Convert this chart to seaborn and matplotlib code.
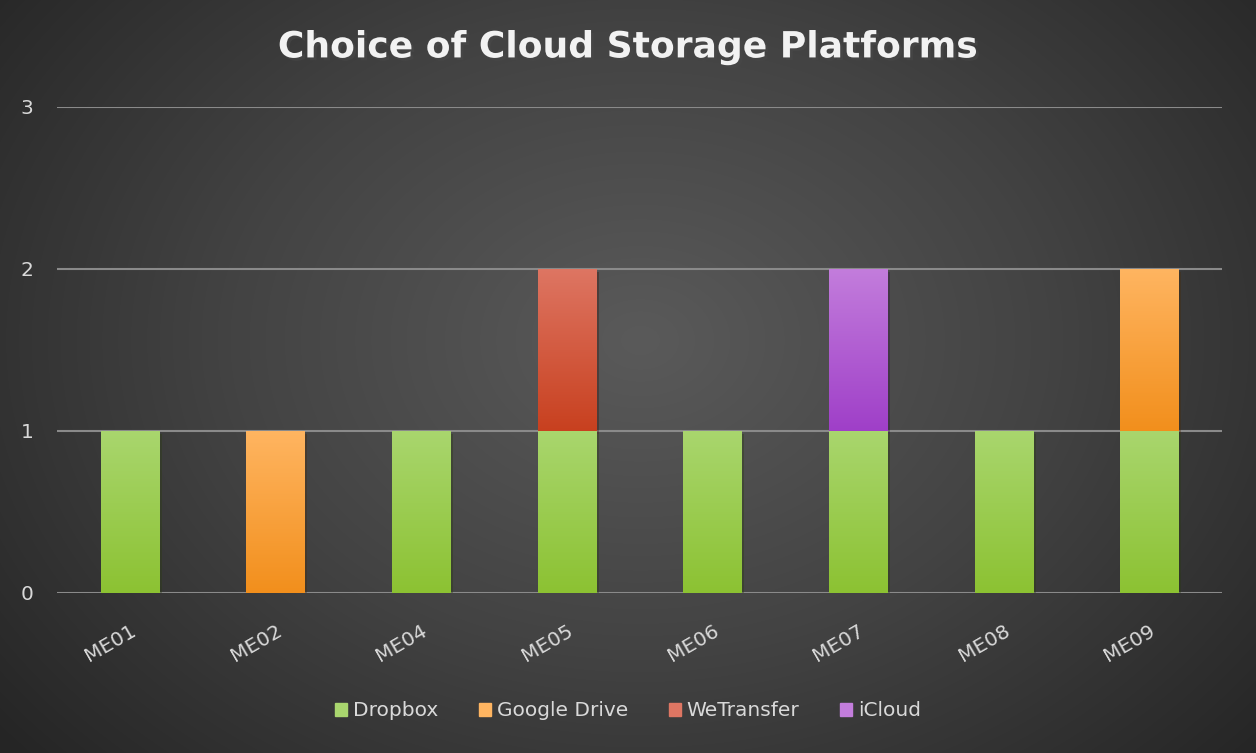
import numpy as np
import pandas as pd
import seaborn as sns
import matplotlib.pyplot as plt
import matplotlib.colors as mcolors
import matplotlib.patheffects as pe

# chart data
participants = ["ME01", "ME02", "ME04", "ME05", "ME06", "ME07", "ME08", "ME09"]
dropbox = [1, 0, 1, 1, 1, 1, 1, 1]
google_drive = [0, 1, 0, 0, 0, 0, 0, 1]
wetransfer = [0, 0, 0, 1, 0, 0, 0, 0]
icloud = [0, 0, 0, 0, 0, 1, 0, 0]

series_names = ["Dropbox", "Google Drive", "WeTransfer", "iCloud"]
series_vals = [dropbox, google_drive, wetransfer, icloud]
# (bottom colour, top colour) for the vertical gradient
series_colors = [("#8cc232", "#a9d66e"),
                 ("#f28f1c", "#ffb561"),
                 ("#c8401f", "#de7663"),
                 ("#9f3fc8", "#c37ddc")]

sns.set_theme(style="dark")
plt.rcParams['font.family'] = ['DejaVu Sans']

fig = plt.figure(figsize=(12.56, 7.53), dpi=100)

# radial background
bg = fig.add_axes([0, 0, 1, 1], zorder=-10)
yy, xx = np.mgrid[0:753, 0:1256]
r = np.sqrt(((xx - 640) / 820.0) ** 2 + ((yy - 340) / 620.0) ** 2)
r = np.clip(r, 0, 1)
bg_cmap = mcolors.LinearSegmentedColormap.from_list("bg", ["#5a5a5a", "#434343", "#262626"])
bg.imshow(r, cmap=bg_cmap, aspect="auto", extent=[0, 1, 0, 1], origin="upper")
bg.axis("off")

ax = fig.add_axes([0.0454, 0.2125, 0.9276, 0.6455])
ax.set_facecolor("none")

df = pd.DataFrame({"participant": participants})
bottom = np.zeros(len(participants))
for name, vals, cols in zip(series_names, series_vals, series_colors):
    df[name] = vals
    n_before = len(ax.patches)
    sns.barplot(data=df, x="participant", y=name, color=cols[0], width=0.4,
                bottom=bottom, ax=ax, saturation=1, zorder=3, linewidth=0)
    new_patches = ax.patches[n_before:]
    cmap = mcolors.LinearSegmentedColormap.from_list(name, [cols[0], cols[1]])
    for p in new_patches:
        h = p.get_height()
        if h <= 0:
            continue
        x0 = p.get_x()
        w = p.get_width()
        y0 = p.get_y()
        p.set_path_effects([pe.SimplePatchShadow(offset=(2, -2), alpha=0.35), pe.Normal()])
        grad = np.linspace(0, 1, 256).reshape(-1, 1)
        im = ax.imshow(grad, cmap=cmap, origin="lower", aspect="auto",
                       extent=[x0, x0 + w, y0, y0 + h], zorder=4)
        im.set_clip_path(p)
    bottom = bottom + np.array(vals)

if ax.get_legend() is not None:
    ax.get_legend().remove()

ax.set_xlim(-0.5, len(participants) - 0.5)
ax.set_ylim(0, 3)
ax.set_yticks([0, 1, 2, 3])
ax.yaxis.grid(True, color="#8a8a8a", linewidth=1.5, zorder=1)
ax.xaxis.grid(False)
for s in ax.spines.values():
    s.set_visible(False)
ax.set_xlabel("")
ax.set_ylabel("")
ax.tick_params(axis="both", length=0, colors="#d9d9d9", labelsize=14.5)
ax.tick_params(axis="y", pad=17)
ax.tick_params(axis="x", pad=20)
plt.setp(ax.get_xticklabels(), rotation=30, ha="right", va="top", rotation_mode="anchor")

handles = [plt.Rectangle((0, 0), 1, 1, color=c[1]) for c in series_colors]
leg = fig.legend(handles, series_names, loc="center", bbox_to_anchor=(0.5, 0.056),
                 ncol=4, frameon=False, fontsize=14.5, handlelength=0.6,
                 handleheight=0.6, handletextpad=0.3, columnspacing=2.0)
for t in leg.get_texts():
    t.set_color("#d9d9d9")

fig.text(0.5, 0.937, "Choice of Cloud Storage Platforms", ha="center", va="center",
         fontsize=26, fontweight="bold", color="#f2f2f2",
         path_effects=[pe.withSimplePatchShadow(offset=(2, -2), alpha=0.6)])

fig.savefig("out.png", dpi=100)
